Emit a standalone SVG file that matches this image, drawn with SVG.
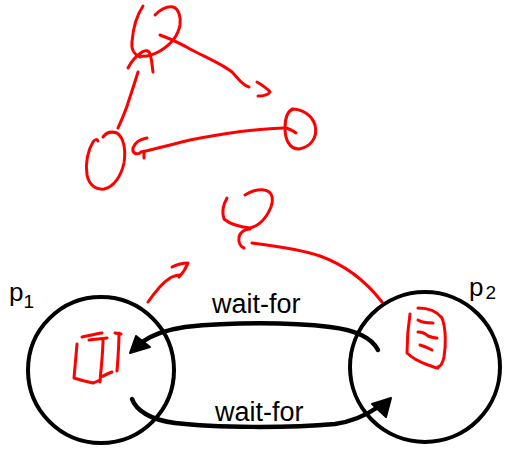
<svg xmlns="http://www.w3.org/2000/svg" width="506" height="449" viewBox="0 0 506 449">
  <style>
    .ink { fill: none; stroke: #ff0000; stroke-width: 3; stroke-linecap: round; stroke-linejoin: round; }
    .proc { fill: none; stroke: #000; stroke-width: 4; }
    .edge { fill: none; stroke: #000; stroke-width: 4.5; stroke-linecap: round; }
    .head { fill: #000; stroke: #000; stroke-width: 2; stroke-linejoin: round; }
    .lbl { font-family: "Liberation Sans", Arial, sans-serif; fill: #000; }
  </style>

  <!-- hand-drawn wait-for cycle -->
  <g id="sketch-top-node">
    <path class="ink" d="M143,6 C137,15 133,28 132,42 C131,50 135,55 140,57"/>
    <path class="ink" d="M128,68 C131,62 136,56 142,52 C145,50 149,50 150,54 C152,60 152,66 153,72"/>
    <path class="ink" d="M155,15 C160,10 167,6 173,7 C179,9 181,17 180,25 C178,36 170,45 160,51 C153,55 146,57 140,56"/>
  </g>
  <g id="sketch-right-node">
    <path class="ink" d="M292,109 C302,109 312,115 315,125 C318,137 311,147 299,149 C289,149 285,139 285,128 C285,118 288,111 293,109"/>
    <path class="ink" d="M286,128 C290,129 293,131 296,133"/>
  </g>
  <g id="sketch-left-node">
    <path class="ink" d="M98,141 C97,139 95,139 93,142 C88,150 85,163 87,175 C89,185 96,190 104,189 C114,187 121,176 124,163 C126,150 124,138 117,133 C111,131 106,133 103,137"/>
  </g>
  <g id="sketch-bottom-node">
    <path class="ink" d="M227,198 C223,205 222,213 224,219 C230,224 240,227 250,228 C258,226 266,219 271,207 C274,198 272,191 264,190 C256,189 250,192 245,195"/>
    <path class="ink" d="M250,229 C245,229 240,232 239,237 C238,243 241,247 244,248"/>
  </g>

  <g id="sketch-edges">
    <!-- top -> right -->
    <path class="ink" d="M160,35 C168,38 178,42 190,49 C205,57 222,64 232,72 C238,78 242,85 249,87"/>
    <path class="ink" d="M257,82 C262,85 267,88 270,92 C268,95 263,96 258,96"/>
    <!-- right -> left -->
    <path class="ink" d="M284,128 C250,129 215,135 190,140 C170,145 155,149 141,152"/>
    <path class="ink" d="M147,138 C141,139 135,142 133,148 C132,153 136,155 140,153"/>
    <path class="ink" d="M144,152 L144,158"/>
    <!-- left -> top -->
    <path class="ink" d="M138,72 C135,82 131,94 128,103 C125,113 121,121 118,128"/>
    <!-- p2 -> bottom sketch -->
    <path class="ink" d="M382,302 C365,280 345,265 320,256 C300,249 275,246 252,243"/>
    <!-- p1 -> off -->
    <path class="ink" d="M148,302 C155,292 162,283 170,278 C174,276 177,275 180,275"/>
    <path class="ink" d="M172,267 C178,264 183,263 188,263 C186,268 183,273 179,277"/>
  </g>

  <!-- processes -->
  <g id="p1">
    <circle class="proc" cx="101" cy="370" r="73"/>
    <text class="lbl" x="9" y="301" font-size="26">p<tspan font-size="19" dy="7">1</tspan></text>
    <path class="ink" d="M77,344 C76,355 75,367 74,378 C80,380 88,382 93,383 C96,382 98,381 100,380"/>
    <path class="ink" d="M82,337 C88,336 95,334 102,333"/>
    <path class="ink" d="M89,340 C95,339 101,339 107,338"/>
    <path class="ink" d="M103,340 C103,353 101,368 100,382"/>
    <path class="ink" d="M119,333 C119,346 118,358 117,371"/>
    <path class="ink" d="M115,333 L121,334"/>
    <path class="ink" d="M101,377 C105,375 109,373 112,372"/>
  </g>

  <g id="p2">
    <circle class="proc" cx="425" cy="367" r="75"/>
    <text class="lbl" x="469" y="296" font-size="26">p<tspan font-size="19" dx="2" dy="3">2</tspan></text>
    <path class="ink" d="M410,314 C408,327 407,341 407,353 C412,358 420,362 428,365 C432,366 435,368 438,368"/>
    <path class="ink" d="M418,308 C426,308 436,310 442,318 C446,328 446,345 444,357 C443,362 441,366 438,367"/>
    <path class="ink" d="M418,320 C421,322 426,323 433,323"/>
    <path class="ink" d="M418,332 C422,332 426,334 428,336 C431,337 434,338 437,338"/>
    <path class="ink" d="M420,345 C424,346 428,348 432,350"/>
  </g>

  <!-- wait-for edges -->
  <g id="connectors">
    <path class="edge" d="M378,350 C372,338 355,330 330,327 C290,322 230,322 185,327 C165,330 152,335 142,342"/>
    <polygon class="head" points="130,353 136,336 150,347"/>
    <path class="edge" d="M132,399 C136,410 150,420 175,423 C215,428 290,428 335,424 C355,421 368,414 378,407"/>
    <polygon class="head" points="391,398 372,404 386,417"/>
    <text class="lbl" x="212" y="313" font-size="27">wait-for</text>
    <text class="lbl" x="215" y="421" font-size="27">wait-for</text>
  </g>
</svg>
